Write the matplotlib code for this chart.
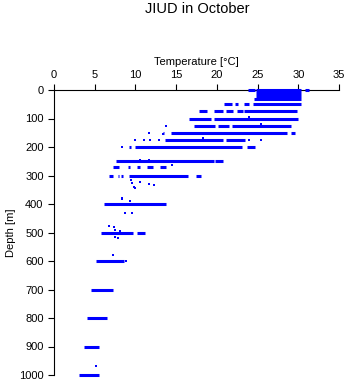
import matplotlib
matplotlib.use("Agg")
from matplotlib import pyplot as plt

plt.rcParams['font.family'] = ['Liberation Sans', 'DejaVu Sans']

# horizontal runs of casts: depth [m], start temp, end temp [C]
seg_depth = [0, 0, 0, 10, 20, 30,
             50, 50, 50, 50,
             75, 75, 75, 75, 75,
             100, 100,
             125, 125, 125,
             150, 150, 150,
             175, 175,
             200, 200, 200,
             250, 250,
             270, 270, 270, 270, 270,
             300, 300, 300, 300, 300,
             400, 500, 500, 600, 700, 800, 900, 1000]
seg_tmin = [23.8, 24.8, 30.8, 24.8, 24.8, 24.6,
            20.9, 22.2, 23.3, 24.4,
            17.8, 19.6, 21.1, 22.5, 23.3,
            16.6, 19.7,
            17.2, 20.1, 21.9,
            13.4, 14.4, 29.1,
            13.6, 21.1,
            9.25, 9.9, 23.7,
            7.6, 19.8,
            7.3, 9.1, 10.2, 11.4, 13.0,
            6.7, 7.8, 8.2, 9.25, 17.4,
            6.2, 5.8, 10.2, 5.2, 4.55, 4.05, 3.7, 3.1]
seg_tmax = [24.7, 30.3, 31.3, 30.3, 30.3, 30.3,
            21.9, 22.6, 23.9, 30.3,
            18.8, 20.8, 22.0, 23.2, 29.8,
            19.3, 30.0,
            19.8, 21.5, 29.1,
            13.5, 28.6, 29.6,
            20.8, 23.5,
            9.5, 23.1, 24.7,
            19.7, 20.7,
            8.0, 9.3, 10.6, 12.1, 13.8,
            7.2, 8.0, 8.5, 16.5, 18.1,
            13.8, 9.7, 11.2, 8.6, 7.2, 6.5, 5.5, 5.5]

# single readings
pt_temp = [23.9, 13.8, 25.4, 11.7, 13.4, 9.9, 11.05, 11.8, 12.9, 23.9, 25.4, 18.3,
           8.3, 16.5, 10.5, 11.7, 12.4, 14.5,
           9.5, 9.6, 10.6, 11.7, 12.3, 9.8, 10.0, 11.8,
           8.3, 8.4, 9.3, 8.7, 9.6,
           6.7, 7.4, 7.5, 8.1, 7.5, 7.9, 8.8, 7.2, 5.2]
pt_depth = [94, 125, 119, 150, 156, 175, 175, 175, 175, 175, 175, 170,
            200, 204, 247, 247, 248, 264,
            315, 327, 322, 329, 333, 340, 343, 305,
            380, 382, 391, 433, 431,
            477, 482, 491, 495, 517, 520, 600, 579, 968]

fig = plt.figure(figsize=(3.48, 3.84), dpi=100)
ax = fig.add_axes([54/348, 9/384, 285/348, 285/384])

ax.hlines(seg_depth, seg_tmin, seg_tmax, colors='#0000ff', linewidth=2.2,
          clip_on=False, zorder=3)
ax.scatter(pt_temp, pt_depth, marker='s', s=3, color='#0000ff', linewidths=0,
           clip_on=False, zorder=3)

ax.set_xlim(0, 35)
ax.set_ylim(1000, 0)
ax.set_xticks(range(0, 36, 5))
ax.set_yticks(range(0, 1001, 100))
ax.xaxis.tick_top()
ax.xaxis.set_label_position('top')
ax.spines['right'].set_visible(False)
ax.spines['bottom'].set_visible(False)
ax.tick_params(labelsize=8, length=4, direction='out')
ax.set_xlabel('Temperature [°C]', fontsize=8, labelpad=3)
ax.set_ylabel('Depth [m]', fontsize=8, labelpad=2)
fig.suptitle('JIUD in October', x=197/348, y=1 - 2/384, va='top', fontsize=10.5)

plt.savefig('out.png', dpi=100)
